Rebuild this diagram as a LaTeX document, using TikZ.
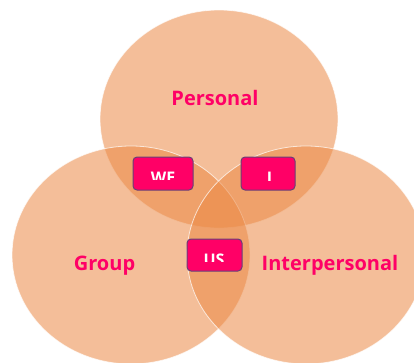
\documentclass[tikz,border=0pt]{standalone}
\usepackage{fontspec}
\setmainfont{Open Sans}
\usetikzlibrary{shapes.geometric}
\definecolor{vennfill}{RGB}{235,137,69}
\definecolor{labelpink}{RGB}{255,0,102}
\definecolor{tagedge}{RGB}{104,64,118}
\begin{document}
\begin{tikzpicture}[x=1pt,y=-1pt,
  venn/.style={ellipse, minimum width=238pt, minimum height=218pt, inner sep=0pt,
    fill=vennfill, fill opacity=0.55, draw=white, draw opacity=0.7, line width=0.8pt},
  setlabel/.style={text=labelpink, font=\bfseries\fontsize{20}{24}\selectfont,
    inner sep=0pt, anchor=base},
  tag/.style={fill=labelpink, draw=tagedge, line width=1pt, rounded corners=4pt,
    inner sep=0pt},
  tagtext/.style={text=white, font=\bfseries\fontsize{16}{18}\selectfont,
    inner sep=0pt, anchor=base}]
\useasboundingbox (0,0) rectangle (414,362);

% the three overlapping sets
\node[venn] (personal) at (219,119) {};
\node[venn] (group) at (131,255) {};
\node[venn] (interpersonal) at (306,255) {};

% set names
\node[setlabel] (personalName) at (215,105) {Personal};
\node[setlabel] (groupName) at (104.5,270) {Group};
\node[setlabel] (interName) at (330,270) {Interpersonal};

% tags on the pairwise overlaps
\node[tag, minimum width=60pt, minimum height=33pt] (we) at (163,173.5) {};
\node[tag, minimum width=54pt, minimum height=33pt] (i) at (268,173.5) {};
\node[tag, minimum width=55pt, minimum height=32pt] (us) at (214.5,255) {};

% tag words, trimmed along their lower edge
\begin{scope}
  \clip (we.north west) rectangle (we.east |- 0,179.5);
  \node[tagtext] (weText) at (163,183.4) {WE};
\end{scope}
\begin{scope}
  \clip (i.north west) rectangle (i.east |- 0,180);
  \node[tagtext] (iText) at (269.5,183.4) {I};
\end{scope}
\begin{scope}
  \clip (us.north west) rectangle (us.east |- 0,261);
  \node[tagtext] (usText) at (214,265.4) {US};
\end{scope}
\end{tikzpicture}
\end{document}
